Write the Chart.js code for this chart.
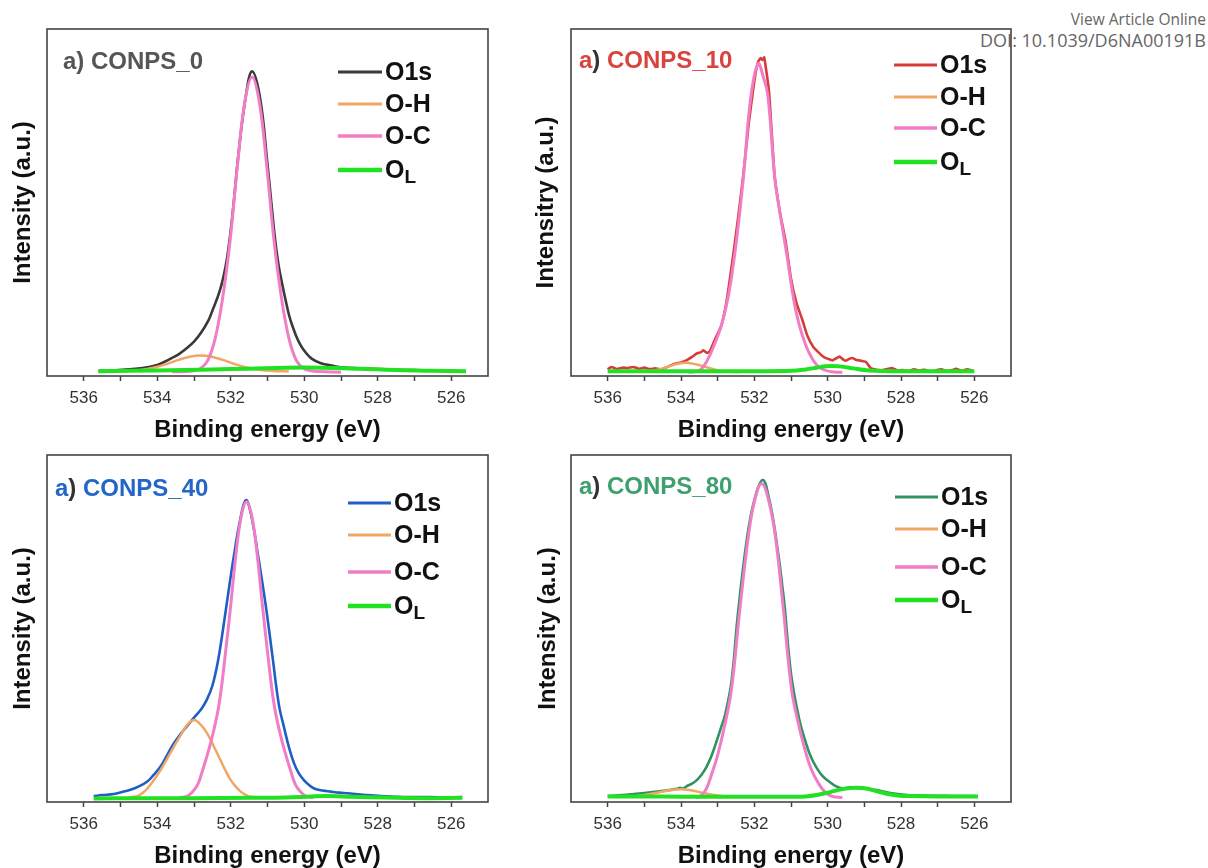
<!DOCTYPE html>
<html>
<head>
<meta charset="utf-8">
<script src="https://cdn.jsdelivr.net/npm/chart.js@4.4.1/dist/chart.umd.min.js"></script>
<style>
  body { margin: 0; width: 1208px; height: 868px; overflow: hidden; background: #fff; position: relative; }
  canvas { position: absolute; }
  #hdr { position: absolute; right: 2px; top: 9px; text-align: right; color: #666; font-family: 'Open Sans', 'Noto Sans', sans-serif; line-height: 21px; }
</style>
</head>
<body>
<div id="hdr"><div style="font-size:15.5px">View Article Online</div><div style="font-size:18px">DOI: 10.1039/D6NA00191B</div></div>
<canvas id="c0" width="520" height="451" style="left:0;top:0"></canvas>
<canvas id="c10" width="520" height="451" style="left:520px;top:0"></canvas>
<canvas id="c40" width="520" height="447" style="left:0;top:430px"></canvas>
<canvas id="c80" width="520" height="447" style="left:520px;top:430px"></canvas>
<script>
// legend names (O_L gets its L as subscript)
const seriesNames = ["O1s", "O-H", "O-C", "O"];
const seriesSubs = ["", "", "", "L"];
const xTicks = [536, 534, 532, 530, 528, 526];

// ---- CONPS_0 : [binding energy, intensity] ----
const o1s0 = [[535.6,1.5],[535.2,1.6],[534.8,1.9],[534.4,2.3],[534.0,3.2],[533.8,4.1],[533.6,5.2],[533.4,6.4],[533.2,8.0],[533.0,9.9],[532.8,12.6],[532.6,16.2],[532.5,18.8],[532.4,21.5],[532.3,24.5],[532.2,28.5],[532.1,34],[532.0,42],[531.9,52],[531.8,63],[531.6,80],[531.42,87.8],[531.2,80],[531.0,61],[530.9,50.5],[530.8,40],[530.7,32],[530.6,26.5],[530.5,21.5],[530.4,17.0],[530.3,13.8],[530.2,11.0],[530.1,8.9],[530.0,7.3],[529.8,5.0],[529.55,3.7],[529.2,2.9],[529.0,2.5],[528.5,2.2],[528.0,2.0],[527.5,1.8],[527.0,1.7],[526.5,1.5],[526.0,1.4],[525.6,1.3]];
const oh0 = [[535.22,1.33],[534.92,1.39],[534.62,1.56],[534.32,1.92],[534.02,2.58],[533.72,3.54],[533.42,4.64],[533.12,5.55],[532.82,5.9],[532.52,5.55],[532.22,4.64],[531.92,3.54],[531.62,2.58],[531.32,1.92],[531.02,1.56],[530.72,1.39],[530.42,1.33]];
const oc0 = [[533.6,1.2],[533.42,1.2],[533.22,1.3],[533.02,1.5],[532.82,2.2],[532.62,4.6],[532.42,11],[532.22,22.5],[532.02,38.8],[531.82,60.4],[531.62,78.8],[531.42,86.2],[531.22,78.8],[531.02,60.4],[530.82,38.8],[530.62,22.5],[530.42,11],[530.22,4.6],[530.02,2.2],[529.82,1.5],[529.6,1.3],[529.0,1.1]];
const ol0 = [[535.6,1.4],[534.0,1.6],[532.5,1.9],[531.5,2.1],[530.5,2.4],[529.5,2.4],[528.5,2.1],[527.5,1.7],[526.5,1.5],[525.6,1.4]];

// ---- CONPS_10 ----
const o1s10 = [[536.0,1.9],[535.9,2.6],[535.75,2.0],[535.6,2.4],[535.45,2.3],[535.3,2.6],[535.15,2.1],[535.0,2.4],[534.85,2.0],[534.7,2.2],[534.55,1.9],[534.4,2.5],[534.2,3.4],[534.0,3.9],[533.84,4.6],[533.7,5.5],[533.57,6.5],[533.45,6.9],[533.39,7.4],[533.3,6.7],[533.22,7.0],[533.08,10.4],[532.9,14.5],[532.75,22],[532.6,33],[532.45,45],[532.3,58],[532.15,73],[532.0,85],[531.9,90.5],[531.83,91.6],[531.78,91.1],[531.73,91.8],[531.6,82],[531.45,58],[531.3,47],[531.15,39],[531.0,28],[530.85,21],[530.7,16.5],[530.55,11.5],[530.4,8.5],[530.25,6.8],[530.1,5.4],[530.0,5.0],[529.87,4.5],[529.78,5.0],[529.68,5.6],[529.58,4.8],[529.5,4.4],[529.4,5.0],[529.32,5.2],[529.22,4.6],[529.14,4.5],[529.05,4.3],[528.96,4.1],[528.88,3.0],[528.82,2.2],[528.7,1.9],[528.6,1.7],[528.5,1.7],[528.35,2.1],[528.24,2.3],[528.1,1.6],[527.95,1.7],[527.8,1.4],[527.65,1.9],[527.5,1.6],[527.35,1.8],[527.2,1.2],[527.05,1.6],[526.9,1.9],[526.75,1.4],[526.6,1.7],[526.5,2.1],[526.35,1.5],[526.2,1.9],[526.05,1.6]];
const oh10 = [[535.1,1.2],[534.8,1.5],[534.5,2.2],[534.2,3.2],[533.9,3.8],[533.6,3.4],[533.3,2.5],[533.0,1.6],[532.7,1.2],[532.4,1.1]];
const oc10 = [[533.8,1.1],[533.5,1.6],[533.3,4.2],[533.1,8.8],[532.9,14.5],[532.7,23.5],[532.5,38],[532.3,57],[532.1,80],[531.9,90],[531.75,86],[531.63,80.8],[531.44,56.8],[531.3,47],[531.1,34],[530.97,24.8],[530.86,18.4],[530.7,12],[530.5,6.5],[530.3,3.2],[530.1,1.8],[529.9,1.2],[529.6,1.1]];
const ol10 = [[536.0,1.4],[535.0,1.4],[534.0,1.4],[533.0,1.4],[532.0,1.4],[531.0,1.5],[530.6,1.9],[530.3,2.4],[530.05,2.8],[529.85,2.9],[529.6,2.7],[529.3,2.2],[529.0,1.7],[528.7,1.5],[528.2,1.4],[527.0,1.4],[526.0,1.4]];

// ---- CONPS_40 ----
const o1s40 = [[535.73,1.7],[535.5,2.0],[535.18,2.3],[534.95,2.9],[534.73,3.5],[534.5,4.5],[534.27,5.9],[534.1,7.8],[533.91,10.2],[533.73,13.5],[533.55,16.9],[533.35,19.8],[533.18,22],[533.0,24.3],[532.8,26.8],[532.65,29.5],[532.5,33.5],[532.35,40.5],[532.2,50.5],[532.05,61.5],[531.91,71.2],[531.75,81],[531.59,87],[531.45,83],[531.26,71.2],[531.05,56.8],[530.87,42.4],[530.69,28],[530.55,21.5],[530.41,15.5],[530.28,11.2],[530.15,8.3],[530.01,6.3],[529.87,4.9],[529.73,3.9],[529.5,3.3],[529.28,3.0],[529.05,2.7],[528.82,2.5],[528.4,2.1],[527.92,1.7],[527.5,1.5],[527.1,1.4],[526.6,1.4],[526.1,1.3],[525.7,1.4]];
const oh40 = [[534.8,1.3],[534.55,1.7],[534.4,2.6],[534.27,3.9],[534.1,6.2],[533.91,9.2],[533.73,12.5],[533.55,15.9],[533.35,19.5],[533.18,22.3],[533.0,23.6],[532.82,22.3],[532.64,19.8],[532.46,16],[532.28,12.1],[532.14,9.0],[532.0,6.3],[531.87,4.5],[531.73,3.0],[531.6,2.1],[531.46,1.5],[531.2,1.3]];
const oc40 = [[533.4,1.3],[533.2,1.6],[533.05,2.8],[532.9,5.0],[532.77,9.0],[532.64,13.5],[532.5,19],[532.32,28],[532.15,42.4],[532.0,56.8],[531.86,71.2],[531.72,82],[531.57,86.5],[531.42,82],[531.28,71.2],[531.14,56.8],[530.99,42.4],[530.82,28],[530.64,19],[530.5,13.5],[530.37,9.0],[530.24,5.0],[530.09,2.8],[529.94,1.6],[529.75,1.3]];
const ol40 = [[535.73,1.0],[534.5,1.1],[533.0,1.1],[531.5,1.2],[530.5,1.3],[529.8,1.6],[529.3,1.7],[528.7,1.5],[527.8,1.3],[526.8,1.1],[525.7,1.2]];

// ---- CONPS_80 ----
const o1s80 = [[536.0,1.7],[535.6,2.0],[535.29,2.3],[535.0,2.6],[534.66,3.0],[534.35,3.4],[534.1,3.8],[534.03,4.1],[533.95,3.9],[533.84,4.6],[533.7,5.3],[533.57,6.3],[533.43,8.0],[533.3,10.2],[533.18,13],[533.08,15.9],[532.9,21.7],[532.8,25],[532.62,35],[532.45,54],[532.2,76],[532.0,87],[531.77,92.8],[531.6,87.5],[531.42,77],[531.2,59],[531.0,37],[530.77,23.6],[530.59,16.9],[530.45,12.8],[530.32,10.2],[530.15,7.6],[529.96,5.9],[529.78,4.6],[529.59,3.9],[529.45,4.2],[529.32,4.2],[529.15,4.0],[528.96,3.9],[528.78,3.6],[528.6,3.3],[528.42,2.9],[528.24,2.5],[527.9,2.1],[527.6,1.9],[527.2,1.8],[526.8,1.8],[526.4,1.7],[526.0,1.7],[525.9,1.6]];
const oh80 = [[535.3,1.6],[535.0,2.0],[534.7,2.6],[534.4,3.2],[534.0,3.7],[533.7,3.3],[533.4,2.6],[533.1,2.0],[532.8,1.6],[532.5,1.5]];
const oc80 = [[533.6,1.3],[533.45,1.8],[533.3,4.0],[533.15,8.5],[533.0,13.5],[532.8,22.5],[532.62,32.8],[532.4,55],[532.17,76],[532.0,86.5],[531.8,91.8],[531.6,86.5],[531.42,76],[531.22,56.8],[530.99,32.8],[530.82,23.6],[530.63,15.5],[530.45,9.5],[530.23,5.0],[530.05,2.6],[529.87,1.6],[529.6,1.3]];
const ol80 = [[536.0,1.6],[535.0,1.6],[534.0,1.5],[533.0,1.5],[532.0,1.5],[531.0,1.5],[530.6,1.6],[530.3,2.0],[530.0,2.7],[529.7,3.5],[529.4,4.0],[529.2,4.1],[528.95,3.9],[528.7,3.2],[528.4,2.4],[528.1,1.9],[527.7,1.7],[527.0,1.6],[526.0,1.6],[525.9,1.6]];

const FONT = "'Liberation Sans', Arial, sans-serif";
Chart.defaults.font.family = FONT;

const orange = "#f2a664";
const pink = "#f07dc6";
const lime = "#22e022";

// frame, panel label and legend drawn on the canvas
const decor = {
  id: "decor",
  beforeDatasetsDraw(chart) {
    const a = chart.chartArea, ctx = chart.ctx;
    ctx.save();
    ctx.strokeStyle = "#444";
    ctx.lineWidth = 1.6;
    ctx.strokeRect(a.left, a.top, a.right - a.left, a.bottom - a.top);
    ctx.restore();
  },
  afterDatasetsDraw(chart, args, o) {
    const a = chart.chartArea, ctx = chart.ctx;
    ctx.save();
    // panel label, "a" coloured, ")" dark
    ctx.font = "bold 24px " + FONT;
    ctx.textBaseline = "middle";
    let x = a.left + o.label[0], y = a.top + o.label[1];
    ctx.fillStyle = o.labelColor;
    ctx.fillText("a", x, y);
    x += ctx.measureText("a").width;
    ctx.fillStyle = o.parenColor;
    ctx.fillText(")", x, y);
    x += ctx.measureText(")").width;
    ctx.fillStyle = o.labelColor;
    ctx.fillText(" " + o.title, x, y);

    // legend
    const ds = chart.data.datasets;
    for (let i = 0; i < seriesNames.length; i++) {
      const ly = a.top + o.rows[i];
      const lx = a.left + o.legX;
      ctx.strokeStyle = ds[i].borderColor;
      ctx.lineWidth = ds[i].borderWidth + 0.5;
      ctx.beginPath();
      ctx.moveTo(lx, ly);
      ctx.lineTo(lx + o.legLen, ly);
      ctx.stroke();
      ctx.fillStyle = "#111";
      ctx.font = "bold 25px " + FONT;
      const tx = lx + o.legLen + 3;
      ctx.fillText(seriesNames[i], tx, ly + 1);
      if (seriesSubs[i]) {
        const w = ctx.measureText(seriesNames[i]).width;
        ctx.font = "bold 19px " + FONT;
        ctx.fillText(seriesSubs[i], tx + w, ly + 8);
      }
    }
    ctx.restore();
  }
};

function pts(arr) {
  return arr.map(p => ({ x: p[0], y: p[1] }));
}

function panel(id, cfg) {
  const line = (label, arr, color, width, order, tension) => ({
    label: label, data: pts(arr), borderColor: color, borderWidth: width,
    pointRadius: 0, tension: tension, order: order, fill: false
  });
  new Chart(document.getElementById(id), {
    type: "line",
    data: {
      datasets: [
        line("O1s", cfg.o1s, cfg.color, 2.6, 4, cfg.o1sTension),
        line("O-H", cfg.oh, orange, 2.5, 3, 0.4),
        line("O-C", cfg.oc, pink, 3, 2, 0.4),
        line("OL", cfg.ol, lime, 4, 1, 0.4)
      ]
    },
    options: {
      responsive: false,
      animation: false,
      devicePixelRatio: 1,
      layout: { padding: { top: cfg.top, right: cfg.right, left: 0, bottom: 0 } },
      plugins: {
        legend: { display: false },
        tooltip: { enabled: false },
        decor: cfg.decor
      },
      scales: {
        x: {
          type: "linear", reverse: true, min: 525, max: 537,
          afterFit: s => { s.height = 75; },
          border: { display: false },
          grid: {
            drawOnChartArea: false, drawTicks: true, tickLength: 5, tickWidth: 1.5,
            tickColor: c => (c.tick && (c.tick.value === 525 || c.tick.value === 537)) ? "rgba(0,0,0,0)" : "#444"
          },
          ticks: {
            stepSize: 1, autoSkip: false, maxRotation: 0, padding: 7, color: "#333",
            font: { size: 17 },
            callback: v => (xTicks.includes(v) ? String(v) : "")
          },
          title: {
            display: true, text: "Binding energy (eV)", color: "#111",
            font: { size: 24, weight: "bold" }, padding: { top: 0, bottom: 6 }
          }
        },
        y: {
          min: 0, max: 100,
          afterFit: s => { s.width = cfg.yw; },
          border: { display: false },
          grid: { display: false },
          ticks: { display: false },
          title: {
            display: true, text: cfg.ytitle, color: "#111",
            font: { size: 24, weight: "bold" }, padding: { top: cfg.ypad, bottom: 0 }
          }
        }
      }
    },
    plugins: [decor]
  });
}

panel("c0", {
  o1s: o1s0, oh: oh0, oc: oc0, ol: ol0, color: "#3a3a3a", o1sTension: 0.4,
  top: 29, right: 32, yw: 47, ypad: 8.6, ytitle: "Intensity (a.u.)",
  decor: { title: "CONPS_0", labelColor: "#555", parenColor: "#555", label: [16, 33],
           legX: 291, legLen: 44, rows: [43, 75, 107, 141] }
});
panel("c10", {
  o1s: o1s10, oh: oh10, oc: oc10, ol: ol10, color: "#d63c37", o1sTension: 0.15,
  top: 29, right: 29, yw: 51, ypad: 11.6, ytitle: "Intensitry (a.u.)",
  decor: { title: "CONPS_10", labelColor: "#d9443e", parenColor: "#333", label: [8, 32],
           legX: 323, legLen: 43, rows: [36, 68, 99, 133] }
});
panel("c40", {
  o1s: o1s40, oh: oh40, oc: oc40, ol: ol40, color: "#1f5fc4", o1sTension: 0.4,
  top: 25, right: 32, yw: 47, ypad: 8.6, ytitle: "Intensity (a.u.)",
  decor: { title: "CONPS_40", labelColor: "#2466c8", parenColor: "#333", label: [8, 34],
           legX: 301, legLen: 43, rows: [48, 80, 117, 151] }
});
panel("c80", {
  o1s: o1s80, oh: oh80, oc: oc80, ol: ol80, color: "#2f9360", o1sTension: 0.4,
  top: 25, right: 29, yw: 51, ypad: 13.6, ytitle: "Intensity (a.u.)",
  decor: { title: "CONPS_80", labelColor: "#3ea06e", parenColor: "#333", label: [8, 32],
           legX: 324, legLen: 43, rows: [42, 74, 112, 145] }
});
</script>
</body>
</html>
